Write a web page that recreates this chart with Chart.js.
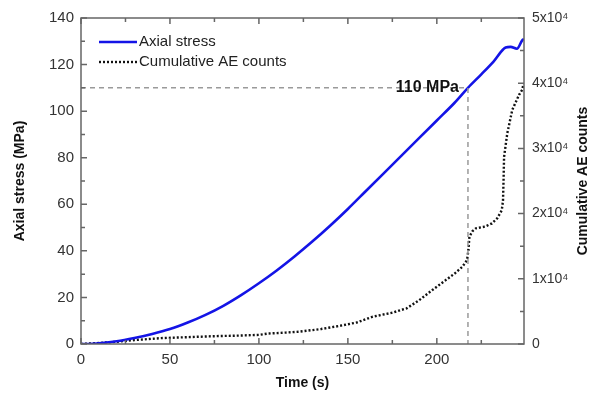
<!DOCTYPE html>
<html>
<head>
<meta charset="utf-8">
<script src="https://cdn.jsdelivr.net/npm/chart.js@4.4.1/dist/chart.umd.min.js"></script>
<style>
  html, body { margin: 0; padding: 0; background: #fff; }
</style>
</head>
<body>
<canvas id="stressChart" width="595" height="395"></canvas>
<script>
// axial stress curve (time in s, stress in MPa)
const stressTime = [0, 5, 10, 20, 30, 40, 50, 60, 70, 80, 90, 100, 110, 120, 130, 140, 150, 160, 170, 180, 190, 200, 210, 217.5, 225, 232, 238.7, 241.5, 245, 248, 249];
const stressValues = [0, 0, 0.3, 1.2, 2.6, 4.3, 6.4, 9.2, 12.5, 16.4, 21, 26.1, 31.6, 37.6, 44, 50.8, 58, 65.6, 73.2, 80.8, 88.4, 96, 103.6, 110, 115.8, 121.4, 127.3, 127.6, 126.8, 130.4, 131];

// cumulative AE counts
const aeTime = [0, 10, 20, 30, 45, 60, 75, 90, 100, 105, 115, 123, 135, 145, 155, 164, 175, 183, 190, 197.5, 205, 210, 214.4, 217, 217.8, 218.3, 220, 222, 227, 231, 234, 236.5, 237.2, 237.5, 237.8, 239.6, 242.4, 246.2, 248, 248.8];
const aeCounts = [0, 150, 350, 600, 900, 1050, 1200, 1300, 1400, 1600, 1750, 1900, 2300, 2760, 3300, 4190, 4800, 5470, 6700, 8280, 9800, 10800, 11860, 12890, 14500, 16460, 17300, 17750, 18000, 18500, 19300, 20500, 22000, 25000, 28700, 32300, 35900, 38200, 39000, 40000];

// 110 MPa guide lines
const guideTime = [0, 217.5, 217.5];
const guideStress = [110, 110, 0];
const guideLabel = '110 MPa';

const xTicks = [0, 50, 100, 150, 200];
const stressTicks = [0, 20, 40, 60, 80, 100, 120, 140];
const aeTicks = [0, 10000, 20000, 30000, 40000, 50000];

const toPoints = (xs, ys) => xs.map((x, i) => ({ x: x, y: ys[i] }));
const fontFamily = '"Liberation Sans", Arial, sans-serif';

const frameAndTicks = {
    id: 'frameAndTicks',
    afterDraw(chart) {
        const ctx = chart.ctx;
        const area = chart.chartArea;
        const x = chart.scales.x;
        const y = chart.scales.y;
        const y2 = chart.scales.y2;
        ctx.save();
        ctx.strokeStyle = '#666';
        ctx.lineWidth = 1.5;
        ctx.strokeRect(area.left, area.top, area.right - area.left, area.bottom - area.top);

        ctx.beginPath();
        for (let v = 0; v <= x.max; v += 25) {
            const px = x.getPixelForValue(v);
            const len = v % 50 === 0 ? 6 : 4;
            ctx.moveTo(px, area.bottom);
            ctx.lineTo(px, area.bottom - len);
            ctx.moveTo(px, area.top);
            ctx.lineTo(px, area.top + len);
        }
        for (let v = 0; v <= y.max; v += 10) {
            const py = y.getPixelForValue(v);
            const len = v % 20 === 0 ? 6 : 4;
            ctx.moveTo(area.left, py);
            ctx.lineTo(area.left + len, py);
        }
        for (let v = 0; v <= y2.max; v += 5000) {
            const py = y2.getPixelForValue(v);
            const len = v % 10000 === 0 ? 6 : 4;
            ctx.moveTo(area.right, py);
            ctx.lineTo(area.right - len, py);
        }
        ctx.stroke();

        // annotation text
        const gx = x.getPixelForValue(guideTime[1]);
        const gy = y.getPixelForValue(guideStress[0]);
        ctx.fillStyle = '#111';
        ctx.font = 'bold 16px ' + fontFamily;
        ctx.textAlign = 'right';
        ctx.textBaseline = 'middle';
        ctx.fillText(guideLabel, gx - 9, gy);

        // right axis title, reading bottom to top
        ctx.save();
        ctx.translate(583, (area.top + area.bottom) / 2);
        ctx.rotate(-Math.PI / 2);
        ctx.textAlign = 'center';
        ctx.font = 'bold 14px ' + fontFamily;
        ctx.fillText('Cumulative AE counts', 0, 0);
        ctx.restore();

        // legend inside the plot
        ctx.font = '15px ' + fontFamily;
        ctx.textAlign = 'left';
        let row = 0;
        chart.data.datasets.forEach(ds => {
            if (!ds.inLegend) return;
            const ly = area.top + 24 + row * 20;
            ctx.save();
            ctx.strokeStyle = ds.borderColor;
            ctx.lineWidth = ds.borderWidth;
            ctx.setLineDash(ds.borderDash || []);
            ctx.beginPath();
            ctx.moveTo(area.left + 18, ly);
            ctx.lineTo(area.left + 56, ly);
            ctx.stroke();
            ctx.restore();
            ctx.fillStyle = '#222';
            ctx.fillText(ds.label, area.left + 58, ly);
            row++;
        });
        ctx.restore();
    }
};

new Chart(document.getElementById('stressChart'), {
    type: 'line',
    data: {
        datasets: [
            {
                label: 'Guide',
                data: toPoints(guideTime, guideStress),
                yAxisID: 'y',
                borderColor: '#9a9a9a',
                borderWidth: 1.5,
                borderDash: [5, 4],
                pointRadius: 0,
                inLegend: false
            },
            {
                label: 'Axial stress',
                data: toPoints(stressTime, stressValues),
                yAxisID: 'y',
                borderColor: '#1414e6',
                borderWidth: 2.6,
                pointRadius: 0,
                cubicInterpolationMode: 'monotone',
                inLegend: true
            },
            {
                label: 'Cumulative AE counts',
                data: toPoints(aeTime, aeCounts),
                yAxisID: 'y2',
                borderColor: '#111',
                borderWidth: 2.4,
                borderDash: [2, 2],
                pointRadius: 0,
                inLegend: true
            }
        ]
    },
    plugins: [frameAndTicks],
    options: {
        responsive: false,
        animation: false,
        layout: { padding: { top: 18, right: 0, bottom: 0, left: 0 } },
        plugins: {
            legend: { display: false },
            tooltip: { enabled: false }
        },
        scales: {
            x: {
                type: 'linear',
                position: 'bottom',
                min: 0,
                max: 249,
                grid: { display: false, drawTicks: false },
                border: { display: false },
                afterBuildTicks: s => { s.ticks = xTicks.map(v => ({ value: v })); },
                afterFit: s => { s.height = 51; },
                ticks: { color: '#333', padding: 7, font: { family: fontFamily, size: 15 } },
                title: {
                    display: true,
                    text: 'Time (s)',
                    color: '#111',
                    padding: { top: 0, bottom: 3 },
                    font: { family: fontFamily, size: 14, weight: 'bold' }
                }
            },
            y: {
                position: 'left',
                min: 0,
                max: 140,
                grid: { display: false, drawTicks: false },
                border: { display: false },
                afterBuildTicks: s => { s.ticks = stressTicks.map(v => ({ value: v })); },
                afterFit: s => { s.width = 81; },
                ticks: { color: '#333', padding: 7, font: { family: fontFamily, size: 15 } },
                title: {
                    display: true,
                    text: 'Axial stress (MPa)',
                    color: '#111',
                    padding: { top: 12, bottom: 0 },
                    font: { family: fontFamily, size: 14, weight: 'bold' }
                }
            },
            y2: {
                position: 'right',
                min: 0,
                max: 50000,
                grid: { display: false, drawTicks: false },
                border: { display: false },
                afterBuildTicks: s => { s.ticks = aeTicks.map(v => ({ value: v })); },
                afterFit: s => { s.width = 71; },
                ticks: {
                    color: '#333',
                    padding: 8,
                    font: { family: fontFamily, size: 14 },
                    callback: v => v === 0 ? '0' : (v / 10000) + 'x10\u2074'
                },
                title: { display: false }
            }
        }
    }
});
</script>
</body>
</html>
